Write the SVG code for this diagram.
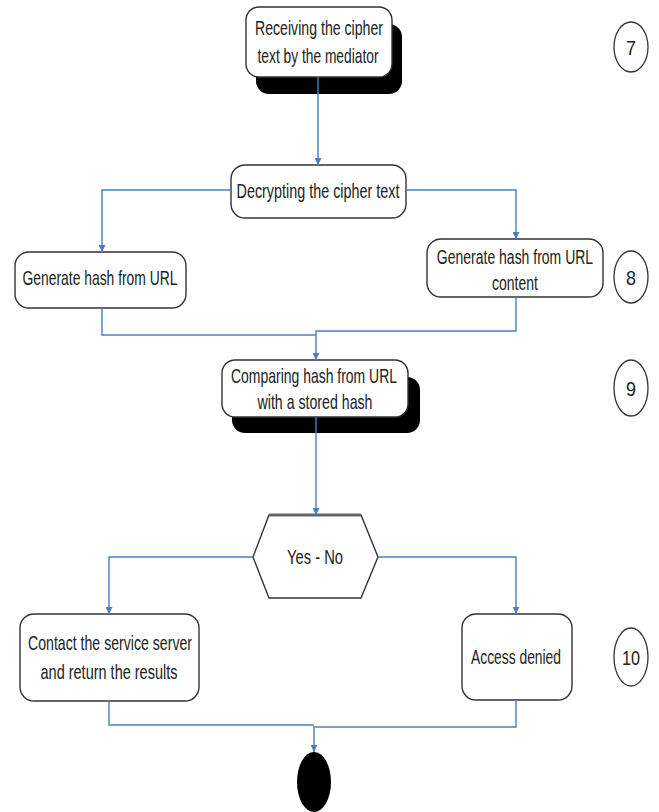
<svg xmlns="http://www.w3.org/2000/svg" width="659" height="812" viewBox="0 0 659 812">
<defs>
<marker id="arr" viewBox="0 0 10 10" refX="10" refY="5" markerWidth="7" markerHeight="7" orient="auto" markerUnits="userSpaceOnUse">
<path d="M0,0 L10,5 L0,10 z" fill="#4a7ebf"/>
</marker>
<style>
.box{fill:#fff;stroke:#333;stroke-width:1.4}
.shadow{fill:#000}
.t{font-family:"Liberation Sans",Arial,sans-serif;font-size:21px;fill:#222;text-anchor:middle}
.c{fill:none;stroke:#4a7ebf;stroke-width:1.4}
.num{fill:#fff;stroke:#333;stroke-width:1.3}
</style>
</defs>
<rect width="659" height="812" fill="#fff"/>

<g id="n1">
<rect class="shadow" x="256" y="24" width="146" height="70" rx="13"/>
<rect class="box" x="246" y="7" width="146" height="70" rx="13"/>
<text class="t" x="319" y="35" textLength="128" lengthAdjust="spacingAndGlyphs">Receiving the cipher</text>
<text class="t" x="318" y="63" textLength="121" lengthAdjust="spacingAndGlyphs">text by the mediator</text>
</g>

<g id="n2">
<rect class="box" x="231" y="165" width="175" height="53" rx="14"/>
<text class="t" x="318" y="198" textLength="163" lengthAdjust="spacingAndGlyphs">Decrypting the cipher text</text>
</g>

<g id="n3">
<rect class="box" x="15" y="252" width="171" height="56" rx="14"/>
<text class="t" x="100" y="285" textLength="155" lengthAdjust="spacingAndGlyphs">Generate hash from URL</text>
</g>

<g id="n4">
<rect class="box" x="427" y="239" width="176" height="58" rx="14"/>
<text class="t" transform="translate(515,264) scale(0.667,1)" x="0" y="0">Generate hash from URL</text>
<text class="t" x="515" y="290" textLength="46" lengthAdjust="spacingAndGlyphs">content</text>
</g>

<g id="n5">
<rect class="shadow" x="232" y="377" width="188" height="56" rx="13"/>
<rect class="box" x="222" y="360" width="186" height="57" rx="13"/>
<text class="t" x="314" y="383" textLength="166" lengthAdjust="spacingAndGlyphs">Comparing hash from URL</text>
<text class="t" x="315" y="409" textLength="115" lengthAdjust="spacingAndGlyphs">with a stored hash</text>
</g>

<g id="n6">
<polygon class="box" points="269,515 361,515 378,557 361,598 269,598 253,557"/>
<line x1="269" y1="515" x2="361" y2="515" stroke="#666" stroke-width="3"/>
<text class="t" x="315" y="564" textLength="56" lengthAdjust="spacingAndGlyphs">Yes - No</text>
</g>

<g id="n7">
<rect class="box" x="20" y="614" width="179" height="87" rx="14"/>
<text class="t" x="110" y="650" textLength="164" lengthAdjust="spacingAndGlyphs">Contact the service server</text>
<text class="t" x="109" y="679" textLength="137" lengthAdjust="spacingAndGlyphs">and return the results</text>
</g>

<g id="n8">
<rect class="box" x="462" y="614" width="110" height="86" rx="14"/>
<text class="t" x="516" y="664" textLength="90" lengthAdjust="spacingAndGlyphs">Access denied</text>
</g>

<g id="n9">
<ellipse cx="314" cy="782" rx="17" ry="30" fill="#000"/>
</g>

<g id="num7">
<ellipse class="num" cx="631" cy="47" rx="17" ry="25"/>
<text class="t" x="631" y="55" textLength="10" lengthAdjust="spacingAndGlyphs">7</text>
</g>
<g id="num8">
<ellipse class="num" cx="631" cy="277" rx="17" ry="26"/>
<text class="t" x="631" y="285" textLength="10" lengthAdjust="spacingAndGlyphs">8</text>
</g>
<g id="num9">
<ellipse class="num" cx="631" cy="388" rx="17" ry="28"/>
<text class="t" x="631" y="396" textLength="10" lengthAdjust="spacingAndGlyphs">9</text>
</g>
<g id="num10">
<ellipse class="num" cx="631" cy="657" rx="17" ry="29"/>
<text class="t" x="631" y="665" textLength="18" lengthAdjust="spacingAndGlyphs">10</text>
</g>

<g id="connectors">
<path class="c" d="M318,77 L318,165" marker-end="url(#arr)"/>
<path class="c" d="M231,190 L102,190 L102,252" marker-end="url(#arr)"/>
<path class="c" d="M406,190 L516,190 L516,239" marker-end="url(#arr)"/>
<path class="c" d="M102,308 L102,335 L316,335"/>
<path class="c" d="M516,297 L516,331 L316,331 L316,360" marker-end="url(#arr)"/>
<path class="c" d="M316,417 L316,515" marker-end="url(#arr)"/>
<path class="c" d="M253,557 L109,557 L109,614" marker-end="url(#arr)"/>
<path class="c" d="M378,557 L516,557 L516,614" marker-end="url(#arr)"/>
<path class="c" d="M109,701 L109,725 L314,725"/>
<path class="c" d="M516,700 L516,727 L314,727 L314,752" marker-end="url(#arr)"/>
</g>
</svg>
